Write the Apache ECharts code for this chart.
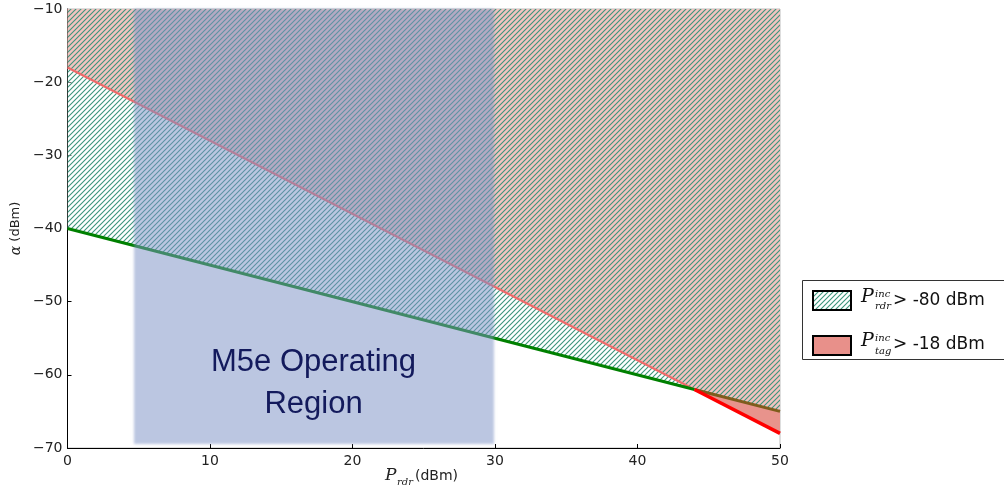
<!DOCTYPE html>
<html><head><meta charset="utf-8">
<script src="https://cdn.jsdelivr.net/npm/echarts@6/dist/echarts.min.js"></script>
<style>html,body{margin:0;padding:0;background:#fff}#c{width:1004px;height:491px}</style>
</head><body><div id="c"></div>
<script>
// ---- data ----
const pRdr = [0, 44, 50];                 // P_rdr (dBm) breakpoints
const alphaRdr = [-40, -62, -65];         // boundary P_rdr^inc > -80 dBm
const alphaTag = [-18, -62, -68];         // boundary P_tag^inc > -18 dBm
const regionP = [4.7, 29.9];              // M5e operating region (P_rdr)
const regionAlpha = [-69.4, -10];         // M5e operating region (alpha)
const xTicks = [0, 10, 20, 30, 40, 50];
const yTicks = [-70, -60, -50, -40, -30, -20, -10];

function hatch(bg) {
  const s = 5, c = document.createElement('canvas');
  c.width = s; c.height = s;
  const g = c.getContext('2d');
  if (bg) { g.fillStyle = bg; g.fillRect(0, 0, s, s); }
  g.strokeStyle = '#3a957c'; g.lineWidth = 1.1;
  g.beginPath();
  g.moveTo(-1, s + 1); g.lineTo(s + 1, -1);
  g.moveTo(-1, 1); g.lineTo(1, -1);
  g.moveTo(s - 1, s + 1); g.lineTo(s + 1, s - 1);
  g.stroke();
  return {image: c, repeat: 'repeat'};
}
const hatchFill = hatch('rgba(255,255,255,0.45)');
const hatchLegend = hatch('#ffffff');

const xMin = xTicks[0], xMax = xTicks[xTicks.length - 1];
const yMin = yTicks[0], yMax = yTicks[yTicks.length - 1];
const pts = (ys) => pRdr.map((p, i) => [p, ys[i]]);
const minus = v => String(v).replace('-', '\u2212');

const chart = echarts.init(document.getElementById('c'), null, {renderer: 'canvas'});
const tickFont = {fontFamily: 'DejaVu Sans', fontSize: 14, color: '#222'};
const OFF = 3000;

chart.setOption({
  animation: false,
  grid: {left: 67.5, right: 224, top: 9, bottom: 43, show: true, borderColor: '#bdbdbd', borderWidth: 1, backgroundColor: 'transparent'},
  xAxis: {type: 'value', min: xMin, max: xMax, interval: 10,
    axisLine: {show: true, onZero: false, lineStyle: {color: '#000', width: 1}},
    axisTick: {inside: true, length: 4, lineStyle: {color: '#000'}},
    splitLine: {show: false},
    axisLabel: Object.assign({margin: 6, formatter: minus}, tickFont)},
  yAxis: {type: 'value', min: yMin, max: yMax, interval: 10,
    axisLine: {show: true, onZero: false, lineStyle: {color: '#000', width: 1}},
    axisTick: {inside: true, length: 4, lineStyle: {color: '#000'}},
    splitLine: {show: false},
    axisLabel: Object.assign({margin: 5, formatter: minus}, tickFont)},
  series: [
    { // red fill above P_tag boundary
      type: 'custom', z: 1, silent: true, data: [0],
      renderItem: (params, api) => {
        const poly = pts(alphaTag).concat([[xMax, yMax], [xMin, yMax]]).map(p => api.coord(p));
        return {type: 'polygon', shape: {points: poly}, style: {fill: '#e8938c'}};
      }
    },
    { // hatched area above P_rdr boundary
      type: 'custom', z: 2, silent: true, data: [0],
      renderItem: (params, api) => {
        const poly = pts(alphaRdr).concat([[xMax, yMax], [xMin, yMax]]).map(p => api.coord(p));
        return {type: 'polygon', shape: {points: poly}, style: {fill: hatchFill}};
      }
    },
    { type: 'line', z: 3, silent: true, symbol: 'none', data: pts(alphaTag).slice(0, 2),
      lineStyle: {color: '#ef6a6a', width: 2.2} },
    { type: 'line', z: 4, silent: true, symbol: 'none', data: pts(alphaRdr).slice(0, 2),
      lineStyle: {color: '#008000', width: 3} },
    { type: 'line', z: 4, silent: true, symbol: 'none', data: pts(alphaRdr).slice(1),
      lineStyle: {color: '#7e5c1c', width: 3} },
    { type: 'line', z: 4, silent: true, symbol: 'none', data: pts(alphaTag).slice(1),
      lineStyle: {color: '#ff0000', width: 3.5} },
    { // M5e operating region (soft-edged via offset shadow)
      type: 'custom', z: 5, silent: true, data: [0],
      renderItem: (params, api) => {
        const a = api.coord([regionP[0], regionAlpha[1]]);
        const b = api.coord([regionP[1], regionAlpha[0]]);
        return {type: 'rect', shape: {x: a[0] - OFF, y: a[1], width: b[0] - a[0], height: b[1] - a[1]},
          style: {fill: '#000', shadowBlur: 2.5, shadowOffsetX: OFF, shadowOffsetY: 0, shadowColor: 'rgba(124,146,198,0.52)'}};
      }
    }
  ],
  graphic: [
    {type: 'text', x: 313.5, y: 362, z: 100, style: {text: 'M5e Operating', font: '31px "Liberation Sans", Arial, sans-serif', fill: '#131a5c', align: 'center', verticalAlign: 'middle'}},
    {type: 'text', x: 313.5, y: 404, z: 100, style: {text: 'Region', font: '31px "Liberation Sans", Arial, sans-serif', fill: '#131a5c', align: 'center', verticalAlign: 'middle'}},
    // x axis title
    {type: 'text', x: 385, y: 484, style: {text: 'P', font: 'italic 17px "DejaVu Serif", serif', fill: '#222', verticalAlign: 'bottom'}},
    {type: 'text', x: 397, y: 487, style: {text: 'rdr', font: 'italic 10px "DejaVu Serif", serif', fill: '#222', verticalAlign: 'bottom'}},
    {type: 'text', x: 415, y: 476.5, style: {text: '(dBm)', font: '14px "DejaVu Sans"', fill: '#222', verticalAlign: 'middle'}},
    // y axis title
    {type: 'text', x: 16, y: 228.5, rotation: Math.PI / 2, style: {text: '{a|α} (dBm)', font: '13px "DejaVu Sans"', fill: '#222', align: 'center', verticalAlign: 'middle',
      rich: {a: {font: 'italic 14px "DejaVu Serif", serif', fill: '#222'}}}},
    // legend
    {type: 'rect', shape: {x: 802.5, y: 280.5, width: 220, height: 79}, style: {fill: '#fff', stroke: '#333', lineWidth: 1}, z: 50},
    {type: 'rect', shape: {x: 813, y: 291, width: 38, height: 19}, style: {fill: hatchLegend, stroke: '#000', lineWidth: 2}, z: 51},
    {type: 'rect', shape: {x: 813, y: 336, width: 38, height: 19}, style: {fill: '#e8908a', stroke: '#000', lineWidth: 2}, z: 51},
    {type: 'text', x: 861, y: 307, z: 51, style: {text: 'P', font: 'italic 19px "DejaVu Serif", serif', fill: '#111', verticalAlign: 'bottom'}},
    {type: 'text', x: 875, y: 299, z: 51, style: {text: 'inc', font: 'italic 10px "DejaVu Serif", serif', fill: '#111', verticalAlign: 'bottom'}},
    {type: 'text', x: 875, y: 311, z: 51, style: {text: 'rdr', font: 'italic 10px "DejaVu Serif", serif', fill: '#111', verticalAlign: 'bottom'}},
    {type: 'text', x: 893, y: 301, z: 51, style: {text: '> -80 dBm', font: '17px "DejaVu Sans"', fill: '#111', verticalAlign: 'middle'}},
    {type: 'text', x: 861, y: 351, z: 51, style: {text: 'P', font: 'italic 19px "DejaVu Serif", serif', fill: '#111', verticalAlign: 'bottom'}},
    {type: 'text', x: 875, y: 343, z: 51, style: {text: 'inc', font: 'italic 10px "DejaVu Serif", serif', fill: '#111', verticalAlign: 'bottom'}},
    {type: 'text', x: 875, y: 356, z: 51, style: {text: 'tag', font: 'italic 10px "DejaVu Serif", serif', fill: '#111', verticalAlign: 'bottom'}},
    {type: 'text', x: 893, y: 345, z: 51, style: {text: '> -18 dBm', font: '17px "DejaVu Sans"', fill: '#111', verticalAlign: 'middle'}}
  ]
});
</script></body></html>
